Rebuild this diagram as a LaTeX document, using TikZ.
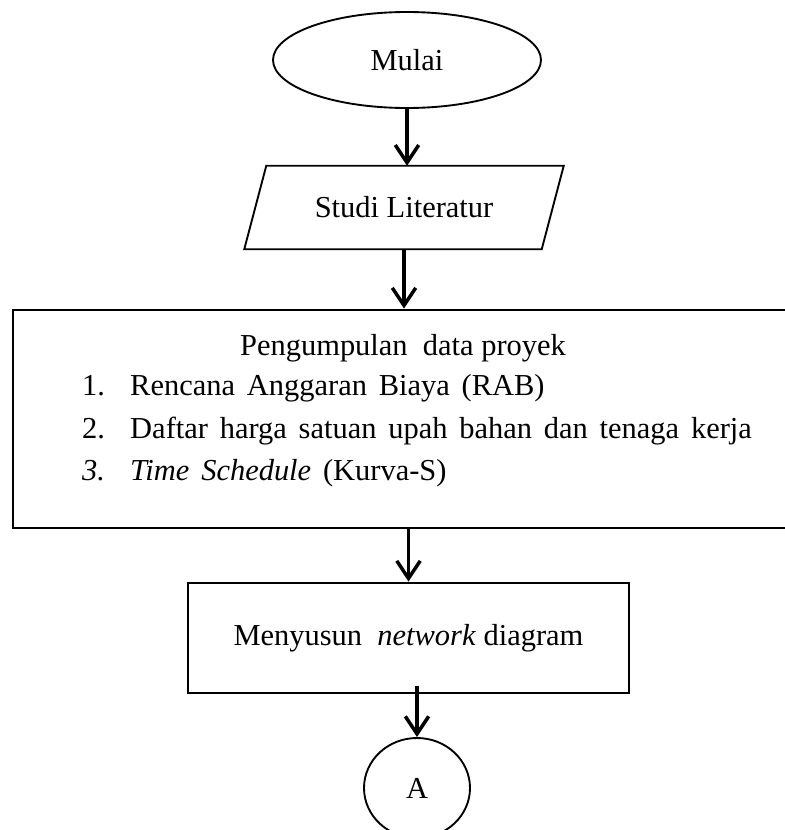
\documentclass[tikz,border=0pt]{standalone}
\usepackage{fontspec}
\setmainfont{Liberation Serif}
\newfontfamily\widefont[WordSpace=1.55]{Liberation Serif}
\usetikzlibrary{shapes.geometric,arrows.meta}
\newcommand{\px}{0.03cm}
\newcommand{\termNode}{\node[ellipse,draw,line width=1.6pt,inner sep=0pt]}
\newcommand{\procNode}{\node[rectangle,draw,line width=2.4pt,inner sep=0pt]}

\begin{document}
\begin{tikzpicture}[x=\px,y=-\px,font=\fontsize{26}{36}\selectfont,
    flow/.style={-{Straight Barb[length=15pt,width=20pt]},line width=3pt}]

    \useasboundingbox (0,0) rectangle (785,830);

    \termNode[minimum width=268*\px,minimum height=96*\px] (mulai) at (407,60) {Mulai};

    % input box, slanted by hand
    \node[minimum width=297*\px,minimum height=83*\px,inner sep=0pt] (studi) at (404,207.5) {Studi Literatur};
    \draw[line width=1.6pt] ([xshift=11*\px]studi.north west) -- ([xshift=11*\px]studi.north east)
        -- ([xshift=-11*\px]studi.south east) -- ([xshift=-11*\px]studi.south west) -- cycle;

    \procNode[minimum width=797*\px,minimum height=218*\px] (data) at (411.5,419) {};
    \node[anchor=base] (judul) at (403,355) {Pengumpulan\ \ data proyek};
    \foreach \n/\txt [count=\i] in {1./{Rencana Anggaran Biaya (RAB)},
                                    2./{Daftar harga satuan upah bahan dan tenaga kerja},
                                    \textit{3.}/{\textit{Time Schedule} (Kurva-S)}}
             {
               \node[anchor=base west,inner sep=0pt] (no\i) at (82,{353+42.5*\i}) {\n};
               \node[anchor=base west,inner sep=0pt] (item\i) at (130,{353+42.5*\i})
                    {\widefont\txt};
             };

    \procNode[minimum width=441*\px,minimum height=110*\px] (susun) at (408.5,638) {Menyusun\ \ \textit{network} diagram};

    \termNode[minimum width=106*\px,minimum height=100*\px] (A) at (417,788) {A};

    \draw[flow] (mulai.south) -- (mulai.south |- studi.north);
    \draw[flow] (studi.south) -- (studi.south |- data.north);
    \draw[flow] (susun.north |- data.south) -- (susun.north);
    \draw[flow] ([yshift=8*\px]A.north |- susun.south) -- (A.north);

\end{tikzpicture}
\end{document}
